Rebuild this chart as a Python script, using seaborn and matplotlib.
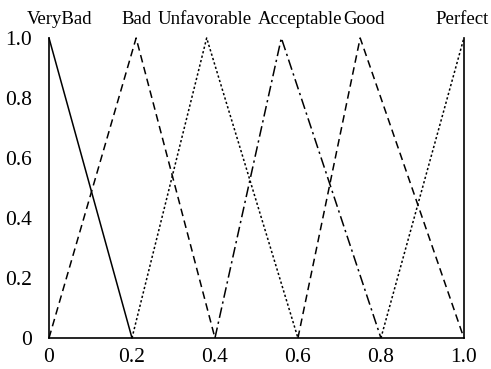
import matplotlib
matplotlib.use("Agg")
import matplotlib.pyplot as plt
import seaborn as sns
import pandas as pd

# Fuzzy membership functions for the six quality grades
terms = ["VeryBad", "Bad", "Unfavorable", "Acceptable", "Good", "Perfect"]
verybad_x = [0.0, 0.2]
verybad_y = [1.0, 0.0]
bad_x = [0.0, 0.21, 0.4]
bad_y = [0.0, 1.0, 0.0]
unfavorable_x = [0.2, 0.38, 0.6]
unfavorable_y = [0.0, 1.0, 0.0]
acceptable_x = [0.4, 0.56, 0.8]
acceptable_y = [0.0, 1.0, 0.0]
good_x = [0.6, 0.75, 1.0]
good_y = [0.0, 1.0, 0.0]
perfect_x = [0.8, 1.0]
perfect_y = [0.0, 1.0]

# Where each grade name sits above the plot
label_x = [0.025, 0.21, 0.375, 0.605, 0.76, 0.995]

tick_vals = [0.0, 0.2, 0.4, 0.6, 0.8, 1.0]
tick_labels = ["0", "0.2", "0.4", "0.6", "0.8", "1.0"]

xs = [verybad_x, bad_x, unfavorable_x, acceptable_x, good_x, perfect_x]
ys = [verybad_y, bad_y, unfavorable_y, acceptable_y, good_y, perfect_y]
rows = []
for name, xv, yv in zip(terms, xs, ys):
    for i, (a, b) in enumerate(zip(xv, yv)):
        rows.append({"term": name, "x": a, "y": b, "order": i})
df = pd.DataFrame(rows)

sns.set_theme(style="white")
plt.rcParams["font.family"] = ["Liberation Serif", "DejaVu Serif"]

fig = plt.figure(figsize=(4.91, 3.69), dpi=100)
ax = fig.add_axes([0.0998, 0.084, 0.845, 0.813])

line_styles = {
    "VeryBad": "",
    "Bad": (5, 3),
    "Unfavorable": (1.5, 1.5),
    "Acceptable": (7, 2.5, 1.5, 2.5),
    "Good": (5, 3),
    "Perfect": (1.5, 1.5),
}
sns.lineplot(data=df, x="x", y="y", hue="term", style="term",
             palette={t: "black" for t in terms}, dashes=line_styles,
             estimator=None, sort=False, units="term", linewidth=1.1,
             legend=False, ax=ax)
for ln in ax.get_lines():
    ln.set_clip_on(False)

ax.set_xlim(0, 1)
ax.set_ylim(0, 1)
ax.set_xticks(tick_vals)
ax.set_xticklabels(tick_labels)
ax.set_yticks(tick_vals)
ax.set_yticklabels(tick_labels)
ax.set_xlabel("")
ax.set_ylabel("")
ax.tick_params(axis="both", direction="in", length=4, width=1, colors="black",
               labelsize=15.5)
ax.tick_params(axis="x", pad=7)
ax.tick_params(axis="y", pad=12)

for side in ["left", "bottom", "right"]:
    ax.spines[side].set_visible(True)
    ax.spines[side].set_color("black")
    ax.spines[side].set_linewidth(1.2)
ax.spines["top"].set_visible(False)

for name, lx in zip(terms, label_x):
    ax.text(lx, 1.047, name, ha="center", va="baseline", fontsize=13.5,
            color="black", clip_on=False)

fig.savefig("out.png", dpi=100, facecolor="white")
